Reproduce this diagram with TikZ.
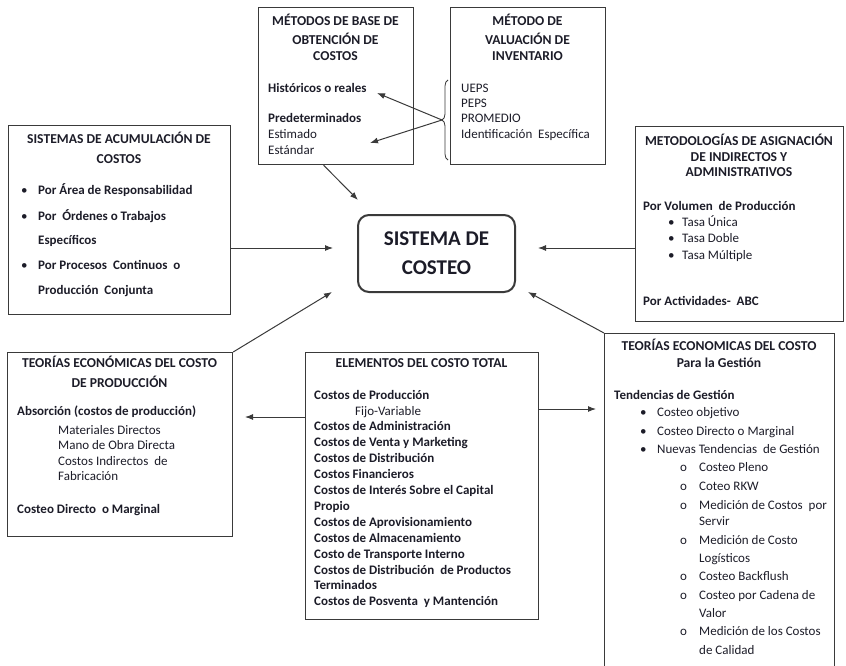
\documentclass[tikz,border=0pt]{standalone}
\usepackage{fontspec}
\setmainfont{Carlito}
\usetikzlibrary{arrows.meta, decorations.pathreplacing, positioning}

\definecolor{linea}{HTML}{3A3A3A}
\definecolor{texto}{HTML}{1C1C28}

\tikzset{
  caja/.style={draw=linea, line width=1.2pt, inner sep=0pt, anchor=north west},
  centro/.style={draw=linea, line width=2pt, rounded corners=11pt, inner sep=0pt,
    minimum width=157, minimum height=77, align=center, text=texto,
    font=\bfseries\fontsize{21}{29}\selectfont},
  tit/.style={font=\bfseries\fontsize{13.6}{16}\selectfont, inner sep=0pt, anchor=mid, text=texto},
  itemb/.style={font=\bfseries\fontsize{13}{16}\selectfont, inner sep=0pt, anchor=mid west, text=texto},
  itemn/.style={font=\fontsize{13}{16}\selectfont, inner sep=0pt, anchor=mid west, text=texto},
  vineta/.style={font=\fontsize{13}{16}\selectfont, inner sep=0pt, anchor=mid west, text=texto},
  flecha/.style={draw=linea, line width=1pt, -{Latex[length=8pt,width=6pt]}},
}

\begin{document}
\begin{tikzpicture}[x=1pt, y=-1pt]
\useasboundingbox (0,0) rectangle (846,666);

% cajas
\node[caja, minimum width=155, minimum height=157] (metbase) at (258,7) {};
\node[caja, minimum width=155, minimum height=157] (valinv) at (450,7) {};
\node[caja, minimum width=222, minimum height=189] (acumul) at (8,125) {};
\node[caja, minimum width=208, minimum height=195] (metodol) at (635,126) {};
\node[caja, minimum width=225, minimum height=184] (teoprod) at (7,352) {};
\node[caja, minimum width=233, minimum height=267] (elementos) at (305,352) {};
\node[caja, minimum width=230, minimum height=336] (teogest) at (604,333) {};
\node[centro] (costeo) at (436.5,253.5) {SISTEMA DE\\COSTEO};

% metodos de base
\foreach \yy/\txt [count=\i] in {23/{MÉTODOS DE BASE DE}, 42/{OBTENCIÓN DE}, 58/{COSTOS}}
  \node[tit] (metbaset\i) at (335.5,\yy) {\txt};
\node[itemb] (hist) at (268,90) {Históricos o reales};
\node[itemb] (predet) at (268,120) {Predeterminados};
\node[itemn] (estim) at (268,136) {Estimado};
\node[itemn] (estand) at (268,152) {Estándar};

% valuacion de inventario
\foreach \yy/\txt [count=\i] in {23/{MÉTODO DE}, 42/{VALUACIÓN DE}, 58/{INVENTARIO}}
  \node[tit] (valinvt\i) at (527.5,\yy) {\txt};
\foreach \yy/\txt [count=\i] in {90/{UEPS}, 105/{PEPS}, 120/{PROMEDIO}, 136/{Identificación\ \ Específica}}
  \node[itemn] (valinvi\i) at (461,\yy) {\txt};

% acumulacion
\foreach \yy/\txt [count=\i] in {141/{SISTEMAS DE ACUMULACIÓN DE}, 161/{COSTOS}}
  \node[tit] (acumult\i) at (119,\yy) {\txt};
\foreach \yy [count=\i] in {192,218,267}
  \node[vineta] (acumulb\i) at (21,\yy) {\textbullet};
\foreach \yy/\txt [count=\i] in {192/{Por Área de Responsabilidad}, 218/{Por\ \ Órdenes o Trabajos},
    242/{Específicos}, 267/{Por Procesos\ \ Continuos\ \ o}, 292/{Producción\ \ Conjunta}}
  \node[itemb] (acumuli\i) at (38,\yy) {\txt};

% metodologias de asignacion
\foreach \yy/\txt [count=\i] in {143/{METODOLOGÍAS DE ASIGNACIÓN}, 159/{DE INDIRECTOS Y}, 174/{ADMINISTRATIVOS}}
  \node[tit] (metodolt\i) at (739,\yy) {\txt};
\node[itemb] (volumen) at (643,208) {Por Volumen\ \ de Producción};
\foreach \yy/\txt [count=\i] in {224/{Tasa Única}, 240/{Tasa Doble}, 257/{Tasa Múltiple}} {
  \node[vineta] (metodolb\i) at (668,\yy) {\textbullet};
  \node[itemn] (metodoli\i) at (682,\yy) {\txt};
}
\node[itemb] (abc) at (643,303) {Por Actividades-\ \ ABC};

% teorias del costo de produccion
\foreach \yy/\txt [count=\i] in {365/{TEORÍAS ECONÓMICAS DEL COSTO}, 385/{DE PRODUCCIÓN}}
  \node[tit] (teoprodt\i) at (119.5,\yy) {\txt};
\node[itemb] (absorc) at (17,413) {Absorción (costos de producción)};
\foreach \yy/\txt [count=\i] in {432/{Materiales Directos}, 447/{Mano de Obra Directa},
    463/{Costos Indirectos\ \ de}, 478/{Fabricación}}
  \node[itemn] (teoprodi\i) at (58,\yy) {\txt};
\node[itemb] (directo) at (17,511) {Costeo Directo\ \ o Marginal};

% elementos del costo total
\node[tit] (elementost) at (421.5,365) {ELEMENTOS DEL COSTO TOTAL};
\node[itemn] (fijovar) at (355,413) {Fijo-Variable};
\foreach \yy/\txt [count=\i] in {397/{Costos de Producción}, 428/{Costos de Administración},
    444/{Costos de Venta y Marketing}, 460/{Costos de Distribución}, 476/{Costos Financieros},
    492/{Costos de Interés Sobre el Capital}, 508/{Propio}, 524/{Costos de Aprovisionamiento},
    540/{Costos de Almacenamiento}, 556/{Costo de Transporte Interno},
    572/{Costos de Distribución\ \ de Productos}, 587/{Terminados}, 603/{Costos de Posventa\ \ y Mantención}}
  \node[itemb] (elementosi\i) at (314,\yy) {\txt};

% teorias del costo para la gestion
\foreach \yy/\txt [count=\i] in {348/{TEORÍAS ECONOMICAS DEL COSTO}, 365/{Para la Gestión}}
  \node[tit] (teogestt\i) at (719,\yy) {\txt};
\node[itemb] (tendenc) at (614,397) {Tendencias de Gestión};
\foreach \yy/\txt [count=\i] in {414/{Costeo objetivo}, 433/{Costeo Directo o Marginal},
    451/{Nuevas Tendencias\ \ de Gestión}} {
  \node[vineta] (teogestb\i) at (640,\yy) {\textbullet};
  \node[itemn] (teogesti\i) at (657,\yy) {\txt};
}
\foreach \yy [count=\i] in {469,488,507,542,578,597,633}
  \node[vineta] (teogestc\i) at (680,\yy) {o};
\foreach \yy/\txt [count=\i] in {469/{Costeo Pleno}, 488/{Coteo RKW}, 507/{Medición de Costos\ \ por},
    523/{Servir}, 542/{Medición de Costo}, 560/{Logísticos}, 578/{Costeo Backflush},
    597/{Costeo por Cadena de}, 615/{Valor}, 633/{Medición de los Costos}, 652/{de Calidad}}
  \node[itemn] (teogestn\i) at (699,\yy) {\txt};

% llave y flechas
\draw[linea, line width=0.8pt, decorate, decoration={brace, amplitude=6pt}] (448,160) -- (448,80);
\coordinate (llavepunta) at (442,120);
\coordinate (tiphist) at (377,93);
\coordinate (tipestim) at (370,143);
\draw[flecha] (llavepunta) -- (tiphist);
\draw[flecha] (llavepunta) -- (tipestim);

\coordinate (tipmet) at (358,200);
\coordinate (tipacu) at (333,248);
\coordinate (tipmetod) at (538,248);
\coordinate (tipprod) at (332,292);
\coordinate (tipgest) at (528,292);
\coordinate (tipelemi) at (245,417);
\coordinate (tipelemd) at (596,409);
\draw[flecha] (metbase.-99) -- (tipmet);
\draw[flecha] (acumul.east |- tipacu) -- (tipacu);
\draw[flecha] (metodol.west |- tipmetod) -- (tipmetod);
\draw[flecha] (teoprod.north east) -- (tipprod);
\draw[flecha] (teogest.north west) -- (tipgest);
\draw[flecha] (elementos.west |- tipelemi) -- (tipelemi);
\draw[flecha] (elementos.east |- tipelemd) -- (tipelemd);
\end{tikzpicture}
\end{document}
